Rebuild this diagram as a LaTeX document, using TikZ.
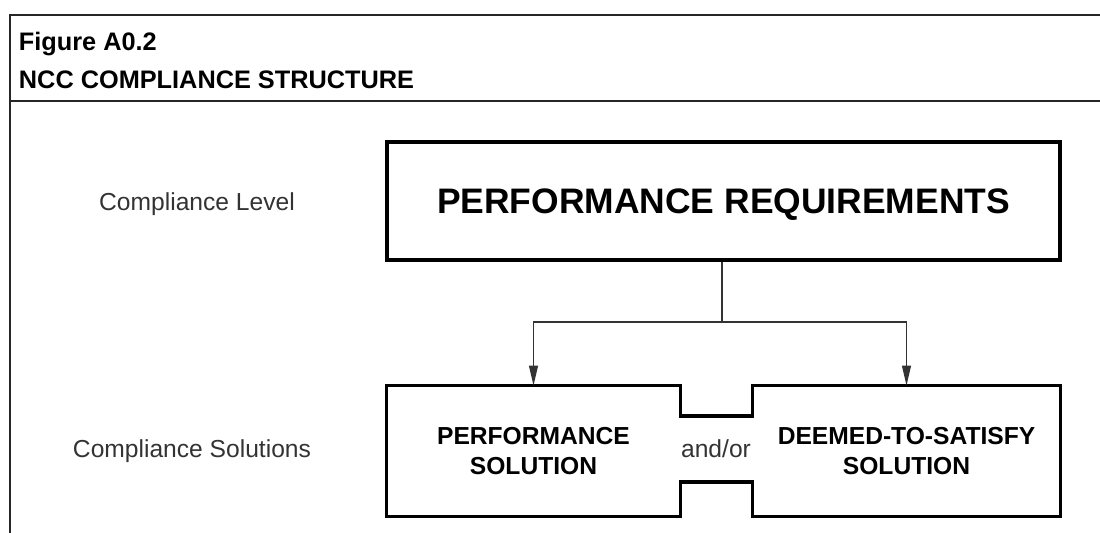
\documentclass[tikz,border=0pt]{standalone}
\usepackage{fontspec}
\setmainfont{Liberation Sans}
\usepackage{tikz}
\usetikzlibrary{arrows.meta}
\usetikzlibrary{positioning}
\tikzset{
    rule/.style = {line width=2pt, black!85},
    bigbox/.style = {rectangle, draw=black, line width=2.4pt, minimum width=16.825cm, minimum height=2.95cm, text depth=0pt, font=\fontsize{25.2}{29}\selectfont\bfseries},
    solnode/.style = {rectangle, align=center, font=\fontsize{17.5}{21}\selectfont\bfseries},
    levelnode/.style = {font=\fontsize{17.5}{21}\selectfont, text=black!80},
    headnode/.style = {anchor=base west, font=\fontsize{18}{22}\selectfont\bfseries},
}
\begin{document}
\begin{tikzpicture}[x=0.025cm, y=-0.025cm]
\useasboundingbox (0,0) rectangle (1100,533);
%
\coordinate (tl) at (10,15);
\coordinate (tr) at (1100,15);
\coordinate (bl) at (10,533);
\coordinate (ml) at (10,101);
\coordinate (mr) at (1100,101);
\draw[rule] (tr) -- (tl) -- (bl);
\draw[rule, line width=1.6pt] (ml) -- (mr);
\node[headnode] at (14,50) (fig) {Figure A0.2};
\node[headnode] at (14,88) (title) {NCC COMPLIANCE STRUCTURE};
%
\node[levelnode] at (197,204) (lvl) {Compliance Level};
\node[levelnode] at (192,451) (sol) {Compliance Solutions};
%
\node[bigbox] at (723.5,201) (pr) {PERFORMANCE REQUIREMENTS};
\node[solnode, minimum width=7.325cm, minimum height=3.25cm] at (533.5,451) (ps) {PERFORMANCE\\SOLUTION};
\node[solnode, minimum width=7.675cm, minimum height=3.25cm] at (906.5,451) (dts) {DEEMED-TO-SATISFY\\SOLUTION};
\node[levelnode] at (716,449) (andor) {and/or};
%
\coordinate (nt) at (716,416);
\coordinate (nb) at (716,482);
\draw[line width=2.4pt, line join=miter] (ps.north west) -- (ps.north east) -- (ps.east |- nt) -- (dts.west |- nt)
    -- (dts.north west) -- (dts.north east) -- (dts.south east) -- (dts.south west) -- (dts.west |- nb)
    -- (ps.east |- nb) -- (ps.south east) -- (ps.south west) -- cycle;
%
\coordinate (split) at (722,322);
\draw[line width=1.1pt, black!80] (pr.south -| split) -- (split);
\draw[line width=1.1pt, black!80, -{Triangle[length=0.5cm, width=0.22cm]}] (split) -| (ps.north);
\draw[line width=1.1pt, black!80, -{Triangle[length=0.5cm, width=0.22cm]}] (split) -| (dts.north);
\end{tikzpicture}
\end{document}
